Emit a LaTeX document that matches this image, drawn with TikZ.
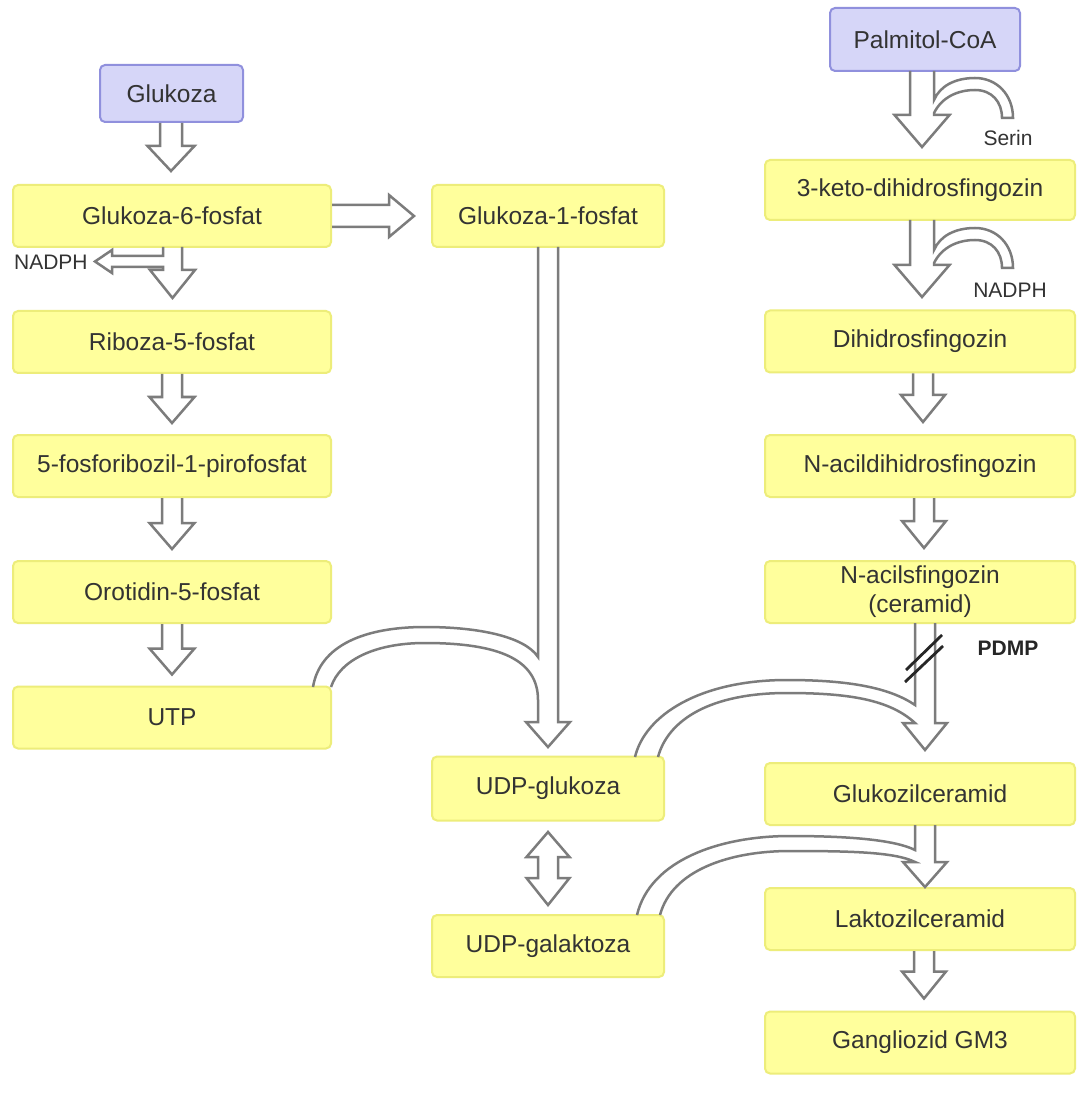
\documentclass[tikz,border=0pt]{standalone}
\usepackage{fontspec}
\setmainfont{Liberation Sans}
\usetikzlibrary{calc}
\definecolor{boxfill}{HTML}{FFFF9C}
\definecolor{boxline}{HTML}{EDED7A}
\definecolor{bluefill}{HTML}{D6D6F8}
\definecolor{blueline}{HTML}{9090DD}
\definecolor{arr}{HTML}{7C7C7C}
\definecolor{txt}{HTML}{333333}
% straight down block arrow: from node #1 to node #2 at x=#3 (px), shaft half #4, head half #5, head length #6, gap #7 (px)
\newcommand\dflow[7]{%
  \draw[blk] let \p1=(#1.south), \p2=(#2.north) in
   ({(#3-#4)*0.5pt},\y1) -- ({(#3-#4)*0.5pt},{\y2+(#7+#6)*0.5pt})
   -- ({(#3-#5)*0.5pt},{\y2+(#7+#6)*0.5pt}) -- ({#3*0.5pt},{\y2+#7*0.5pt})
   -- ({(#3+#5)*0.5pt},{\y2+(#7+#6)*0.5pt}) -- ({(#3+#4)*0.5pt},{\y2+(#7+#6)*0.5pt})
   -- ({(#3+#4)*0.5pt},\y1);}
\begin{document}
\begin{tikzpicture}[x=0.5pt,y=-0.5pt,
  box/.style={draw=boxline, fill=boxfill, line width=1pt, rounded corners=2.5pt,
    inner sep=0pt, text=txt, align=center,
    font=\fontsize{12.25pt}{14.5pt}\selectfont},
  lbox/.style={box, minimum width=159pt, minimum height=31pt},
  mbox/.style={box, minimum width=116pt, minimum height=31pt},
  rbox/.style={box, minimum width=155pt, minimum height=31pt},
  bbox/.style={box, draw=blueline, fill=bluefill},
  blk/.style={draw=arr, line width=1.25pt, line join=miter},
  lbl/.style={text=txt, inner sep=0pt, font=\fontsize{10.5pt}{12pt}\selectfont}
]
\fill[white] (0,0) rectangle (1079,1106);
\useasboundingbox (0,0) rectangle (1079,1106);

% ---------- nodes ----------
\node[bbox, minimum width=71.5pt, minimum height=28.5pt] (glu) at (171.5,93.5) {Glukoza};
\node[lbox] (g6p)  at (172,216)   {Glukoza-6-fosfat};
\node[lbox] (r5p)  at (172,342)   {Riboza-5-fosfat};
\node[lbox] (prpp) at (172,466)   {5-fosforibozil-1-pirofosfat};
\node[lbox] (oro)  at (172,592)   {Orotidin-5-fosfat};
\node[lbox] (utp)  at (172,717.5) {UTP};

\node[mbox] (g1p) at (548,216) {Glukoza-1-fosfat};
\node[mbox, minimum height=32pt] (udpglc) at (548,788.5) {UDP-glukoza};
\node[mbox] (udpgal) at (548,946) {UDP-galaktoza};

\node[bbox, minimum width=95pt, minimum height=31.5pt] (pal) at (925,39.5) {Palmitol-CoA};
\node[rbox, minimum height=30pt] (keto) at (920,190) {3-keto-dihidrosfingozin};
\node[rbox] (dh)     at (920,341.5) {Dihidrosfingozin};
\node[rbox] (nadh)   at (920,466)   {N-acildihidrosfingozin};
\node[rbox] (cer)    at (920,592)   {N-acilsfingozin\\(ceramid)};
\node[rbox] (glccer) at (920,794)   {Glukozilceramid};
\node[rbox] (laccer) at (920,919)   {Laktozilceramid};
\node[rbox] (gm3)    at (920,1042.5) {Gangliozid GM3};

\node[lbl, anchor=east] (nadphL) at (88,262) {NADPH};
\node[lbl] (serin) at (1008,138) {Serin};
\node[lbl] (nadphR) at (1010,290) {NADPH};
\node[lbl, font=\fontsize{10.5pt}{12pt}\selectfont\bfseries, text=black!85] (pdmp) at (1008,648) {PDMP};

% ---------- left column ----------
\dflow{glu}{g6p}{171}{11}{23.5}{25}{13}
% G6P -> R5P with NADPH branch
\draw[blk] (182,247) -- (182,270) -- (195,270) -- (172.5,298) -- (150,270) -- (163,270)
  -- (163,267) -- (112,267) -- (112,273) -- (95,261.5) -- (112,250) -- (112,256)
  -- (163,256) -- (163,247);
\dflow{r5p}{prpp}{172}{10}{22.5}{26}{11}
\dflow{prpp}{oro}{172}{10}{22.5}{26}{11}
\dflow{oro}{utp}{172}{10}{22.5}{26}{11}

% G6P -> G1P
\draw[blk] ($(g6p.east)+(0,-11)$) -- ++(57,0) -- ++(0,-10) -- ($(g1p.west)+(-17,0)$)
  -- ($(g6p.east)+(57,21)$) -- ++(0,-10) -- ($(g6p.east)+(0,11)$);

% G1P -> UDP-glukoza, with UTP branch merging
\draw[blk] (538,247) -- (538,657)
  .. controls (525,637) and (480,627) .. (425,627)
  .. controls (365,627) and (320,645) .. (313,687);
\draw[blk] (331,687) .. controls (340,660) and (375,643) .. (425,643)
  .. controls (500,643) and (538,660) .. (538,700)
  -- (538,722) -- (526,722) -- (548,747) -- (570,722) -- (558,722) -- (558,247);

% UDP-glukoza <-> UDP-galaktoza
\draw[blk] (548,832) -- (569.5,857) -- (558,857) -- (558,878) -- (569.5,878) -- (548,905)
  -- (526.5,878) -- (538,878) -- (538,857) -- (526.5,857) -- cycle;

% ---------- right column ----------
% Palmitol-CoA -> 3-keto with Serin
\draw[blk] (910,71) -- (910,115) -- (894.5,115) -- (922,147) -- (949.5,115) -- (934,115) -- (934,113)
  .. controls (942,97) and (958,90) .. (975,90)
  .. controls (992,90) and (1002,102) .. (1002,118) -- (1013,118)
  .. controls (1013,95) and (997,78) .. (975,78)
  .. controls (955,78) and (940,86) .. (934,100) -- (934,71);
% 3-keto -> Dihidro with NADPH
\draw[blk] (910,220) -- (910,265) -- (894.5,265) -- (922,297) -- (949.5,265) -- (934,265) -- (934,263)
  .. controls (942,247) and (958,240) .. (975,240)
  .. controls (992,240) and (1002,252) .. (1002,268) -- (1013,268)
  .. controls (1013,245) and (997,228) .. (975,228)
  .. controls (955,228) and (940,236) .. (934,250) -- (934,220);
\dflow{dh}{nadh}{923}{10}{22}{27}{12}
\dflow{nadh}{cer}{924}{10}{22}{27}{12}

% ceramid -> Glukozilceramid with UDP-glukoza branch
\draw[blk] (935,623) -- (935,723) -- (947,723) -- (925,750) -- (903,723) -- (915,723)
  .. controls (890,700) and (850,693) .. (787,693)
  .. controls (710,693) and (668,720) .. (658,757);
\draw[blk] (915,623) -- (915,705)
  .. controls (890,688) and (850,680) .. (787,680)
  .. controls (700,680) and (645,715) .. (635,757);
\draw[black!85, line width=1.4pt] (906,670) -- (942,635);
\draw[black!85, line width=1.4pt] (905,682) -- (943,646);

% Glukozilceramid -> Laktozilceramid with UDP-galaktoza branch
\draw[blk] (935,825) -- (935,862) -- (947,862) -- (925,887) -- (903,862) -- (915,862)
  .. controls (895,852) and (850,851) .. (790,851)
  .. controls (730,851) and (672,870) .. (660,915);
\draw[blk] (915,825) -- (915,850)
  .. controls (895,840) and (850,836) .. (790,836)
  .. controls (720,836) and (650,860) .. (637,915);
\dflow{laccer}{gm3}{924}{10}{22}{27}{12}
\end{tikzpicture}
\end{document}
